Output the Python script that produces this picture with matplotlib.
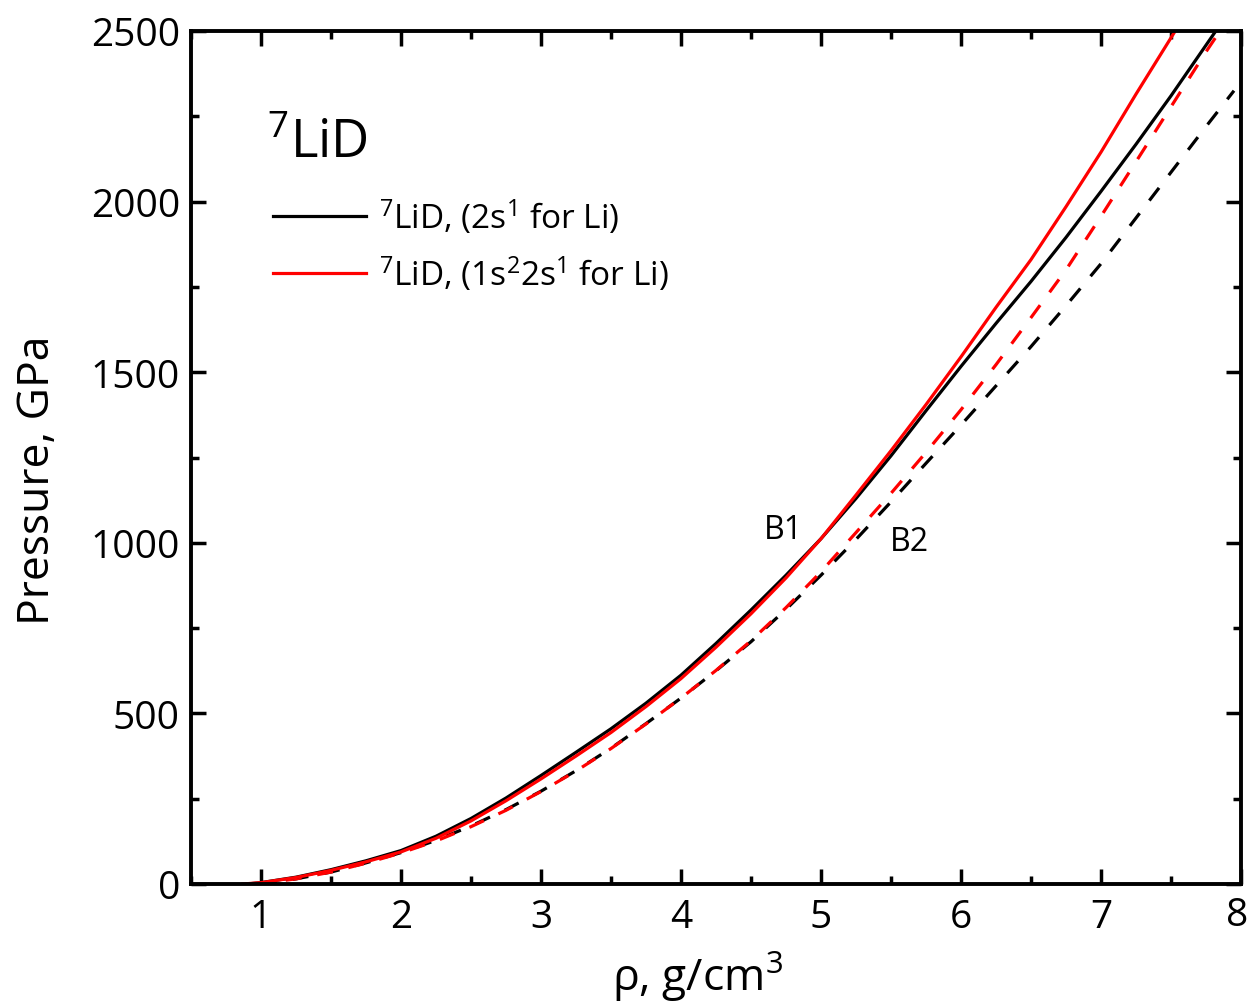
import matplotlib
matplotlib.use("Agg")
import matplotlib.pyplot as plt
from matplotlib.ticker import MultipleLocator

plt.rcParams['font.family'] = ['Open Sans', 'DejaVu Sans']
plt.rcParams['mathtext.fontset'] = 'custom'
plt.rcParams['mathtext.rm'] = 'Open Sans'
plt.rcParams['mathtext.it'] = 'Open Sans:italic'

# density, g/cm3 and pressure, GPa
rho_b1 = [0.9, 1.0, 1.25, 1.5, 1.75, 2.0, 2.25, 2.5, 2.75, 3.0, 3.25, 3.5, 3.75, 4.0,
          4.25, 4.5, 4.75, 5.0, 5.25, 5.5, 5.75, 6.0, 6.25, 6.5, 6.75, 7.0, 7.25, 7.5, 7.82]
p_b1 = [0, 4, 20, 42, 68, 98, 140, 192, 252, 318, 386, 455, 530, 612,
        705, 803, 905, 1012, 1130, 1255, 1387, 1517, 1643, 1766, 1895, 2030, 2168, 2310, 2500]

rho_r1 = [0.87, 1.0, 1.25, 1.5, 1.75, 2.0, 2.25, 2.5, 2.75, 3.0, 3.25, 3.5, 3.75, 4.0,
          4.25, 4.5, 4.75, 5.0, 5.25, 5.5, 5.75, 6.0, 6.25, 6.5, 6.75, 7.0, 7.25, 7.53]
p_r1 = [0, 4, 19, 40, 65, 94, 134, 185, 244, 308, 375, 444, 520, 602,
        694, 792, 897, 1012, 1140, 1270, 1405, 1545, 1690, 1830, 1985, 2145, 2315, 2500]

rho_b2 = [1.0, 1.25, 1.5, 1.75, 2.0, 2.25, 2.5, 2.75, 3.0, 3.25, 3.5, 3.75, 4.0,
          4.25, 4.5, 4.75, 5.0, 5.25, 5.5, 5.75, 6.0, 6.25, 6.5, 6.75, 7.0, 7.25, 7.5, 7.75, 7.95]
p_b2 = [0, 15, 35, 62, 92, 128, 170, 218, 272, 332, 398, 470, 545,
        625, 710, 805, 905, 1010, 1120, 1233, 1345, 1460, 1575, 1695, 1818, 1952, 2086, 2220, 2325]

rho_r2 = [0.95, 1.0, 1.25, 1.5, 1.75, 2.0, 2.25, 2.5, 2.75, 3.0, 3.25, 3.5, 3.75, 4.0,
          4.25, 4.5, 4.75, 5.0, 5.25, 5.5, 5.75, 6.0, 6.25, 6.5, 6.75, 7.0, 7.25, 7.5, 7.75, 7.85]
p_r2 = [0, 2, 15, 35, 61, 91, 126, 168, 216, 271, 331, 397, 469, 545,
        626, 713, 810, 915, 1030, 1145, 1265, 1390, 1522, 1660, 1800, 1957, 2117, 2278, 2439, 2500]

x_ticks = [1, 2, 3, 4, 5, 6, 7, 8]
lab_black = r'$^{7}$LiD, (2s$^{1}$ for Li)'
lab_red = r'$^{7}$LiD, (1s$^{2}$2s$^{1}$ for Li)'

fig = plt.figure(figsize=(12.49, 10.03), dpi=100)
ax = fig.add_axes([191/1249, 1 - 885/1003, 1050/1249, 853/1003])

lw = 2.3
ax.plot(rho_b2, p_b2, color='black', lw=lw, ls=(0, (5, 5)))
ax.plot(rho_r2, p_r2, color='red', lw=lw, ls=(0, (5, 5)))
ax.plot(rho_b1, p_b1, color='black', lw=lw, label=lab_black)
ax.plot(rho_r1, p_r1, color='red', lw=lw, label=lab_red)

ax.set_xlim(0.5, 8)
ax.set_ylim(0, 2500)
ax.set_xticks(x_ticks)
# last label drawn separately, nudged left so it stays inside the figure
ax.set_xticklabels([str(t) for t in x_ticks[:-1]] + [''])
ax.annotate(str(x_ticks[-1]), xy=(x_ticks[-1], 0), xycoords='data',
            xytext=(-3, -9), textcoords='offset points', ha='center', va='top',
            fontsize=28, annotation_clip=False)
ax.xaxis.set_minor_locator(MultipleLocator(0.5))
ax.yaxis.set_major_locator(MultipleLocator(500))
ax.yaxis.set_minor_locator(MultipleLocator(250))
ax.tick_params(which='both', direction='in', top=True, right=True, width=2.5, labelsize=28)
ax.tick_params(which='major', length=11)
ax.tick_params(which='minor', length=6)
ax.tick_params(axis='x', pad=10)
ax.tick_params(axis='y', pad=8)
for s in ax.spines.values():
    s.set_linewidth(2.8)

ax.set_xlabel('ρ, g/cm$^{3}$', fontsize=32, labelpad=9)
ax.xaxis.label.set_x(0.482)
ax.set_ylabel('Pressure, GPa', fontsize=32, labelpad=22)
ax.yaxis.label.set_y(0.475)

ax.text(1.04, 2130, r'$^{7}$LiD', fontsize=38, ha='left', va='baseline')
ax.text(4.73, 1040, 'B1', fontsize=23, ha='center', va='center')
ax.text(5.63, 1005, 'B2', fontsize=23, ha='center', va='center')

ax.legend(loc='upper left', bbox_to_anchor=(0.065, 0.821), frameon=False, fontsize=24,
          handlelength=2.8, handletextpad=0.4, labelspacing=0.55, borderaxespad=0)

fig.savefig('out.png', dpi=100)
